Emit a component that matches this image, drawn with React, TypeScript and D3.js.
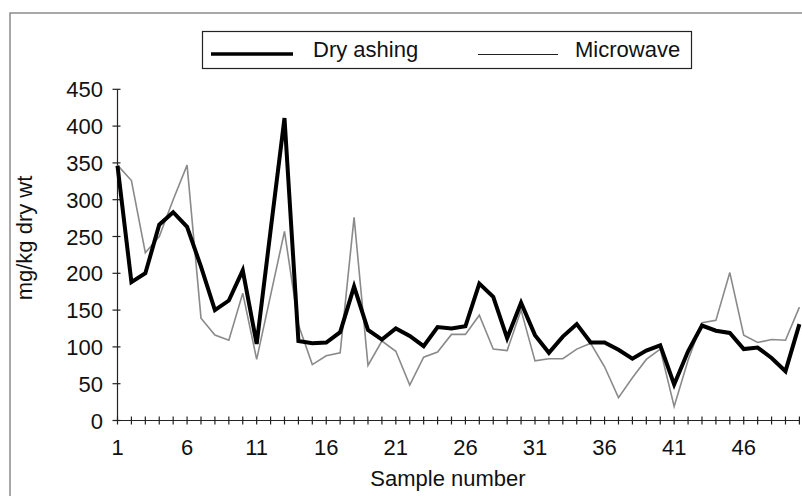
import React from "react"
import * as d3 from "d3"

const width = 802
const height = 496

const samples = d3.range(1, 51)
const dryAshing = [
  346, 188, 200, 266, 283, 263, 209, 150, 163, 204,
  104, 258, 411, 108, 105, 106, 120, 182, 123, 110,
  125, 115, 101, 127, 125, 128, 186, 168, 112, 160,
  116, 92, 114, 131, 106, 106, 96, 84, 95, 102,
  49, 94, 129, 122, 119, 97, 99, 85, 67, 131,
]
const microwave = [
  347, 326, 228, 250, 300, 347, 139, 116, 109, 173,
  83, 170, 257, 130, 76, 88, 92, 276, 75, 108,
  94, 48, 86, 93, 117, 117, 143, 97, 95, 150,
  81, 84, 84, 97, 105, 73, 31, 58, 83, 97,
  19, 82, 133, 136, 201, 116, 106, 110, 109, 154,
]
const yTicks = [0, 50, 100, 150, 200, 250, 300, 350, 400, 450]
const xTickLabels = [1, 6, 11, 16, 21, 26, 31, 36, 41, 46]

const font = "'Liberation Sans', Arial, Helvetica, sans-serif"
const fontSize = 22

export default function App() {
  const x = d3.scaleLinear().domain([1, 50]).range([117.5, 799.4])
  const y = d3.scaleLinear().domain([0, 450]).range([420.5, 89.3])

  const line = d3
    .line<number>()
    .x((_, i) => x(samples[i]))
    .y(d => y(d))

  return (
    <svg
      width={width}
      height={height}
      style={{ position: "absolute", left: 0, top: 0, background: "#fff" }}
      fontFamily={font}
    >
      {/* outer frame, runs off the right and bottom */}
      <rect x={10} y={13} width={820} height={520} fill="none" stroke="#7a7a7a" strokeWidth={1.3} />

      {/* legend */}
      <rect x={202.5} y={31.5} width={489} height={37} fill="#fff" stroke="#222" strokeWidth={1.2} />
      <line x1={211} x2={293} y1={54} y2={54} stroke="#000" strokeWidth={3.5} />
      <text x={313} y={57} fontSize={fontSize} fill="#111">Dry ashing</text>
      <line x1={478} x2={558} y1={54.5} y2={54.5} stroke="#222" strokeWidth={1} />
      <text x={575} y={57} fontSize={fontSize} fill="#111">Microwave</text>

      {/* y axis */}
      <line x1={x(1)} x2={x(1)} y1={y(450)} y2={y(0)} stroke="#222" strokeWidth={1.2} />
      {yTicks.map(t => (
        <g key={t}>
          <line x1={x(1) - 5} x2={x(1) + 3} y1={y(t)} y2={y(t)} stroke="#222" strokeWidth={1.2} />
          <text x={103} y={y(t) + 8} textAnchor="end" fontSize={fontSize} fill="#111">
            {t}
          </text>
        </g>
      ))}
      <text
        transform={`translate(32, 238) rotate(-90)`}
        textAnchor="middle"
        fontSize={fontSize}
        fill="#111"
      >
        mg/kg dry wt
      </text>

      {/* x axis */}
      <line x1={x(1)} x2={x(50)} y1={y(0)} y2={y(0)} stroke="#222" strokeWidth={1.2} />
      {samples.map(s => (
        <line key={s} x1={x(s)} x2={x(s)} y1={y(0) - 4} y2={y(0) + 4} stroke="#222" strokeWidth={1.2} />
      ))}
      {xTickLabels.map(s => (
        <text key={s} x={x(s)} y={455} textAnchor="middle" fontSize={fontSize} fill="#111">
          {s}
        </text>
      ))}
      <text x={448} y={486} textAnchor="middle" fontSize={fontSize} fill="#111">
        Sample number
      </text>

      {/* series */}
      <path d={line(microwave) ?? ""} fill="none" stroke="#8a8a8a" strokeWidth={1.6} strokeLinejoin="miter" />
      <path d={line(dryAshing) ?? ""} fill="none" stroke="#000" strokeWidth={4} strokeLinejoin="miter" />
    </svg>
  )
}
